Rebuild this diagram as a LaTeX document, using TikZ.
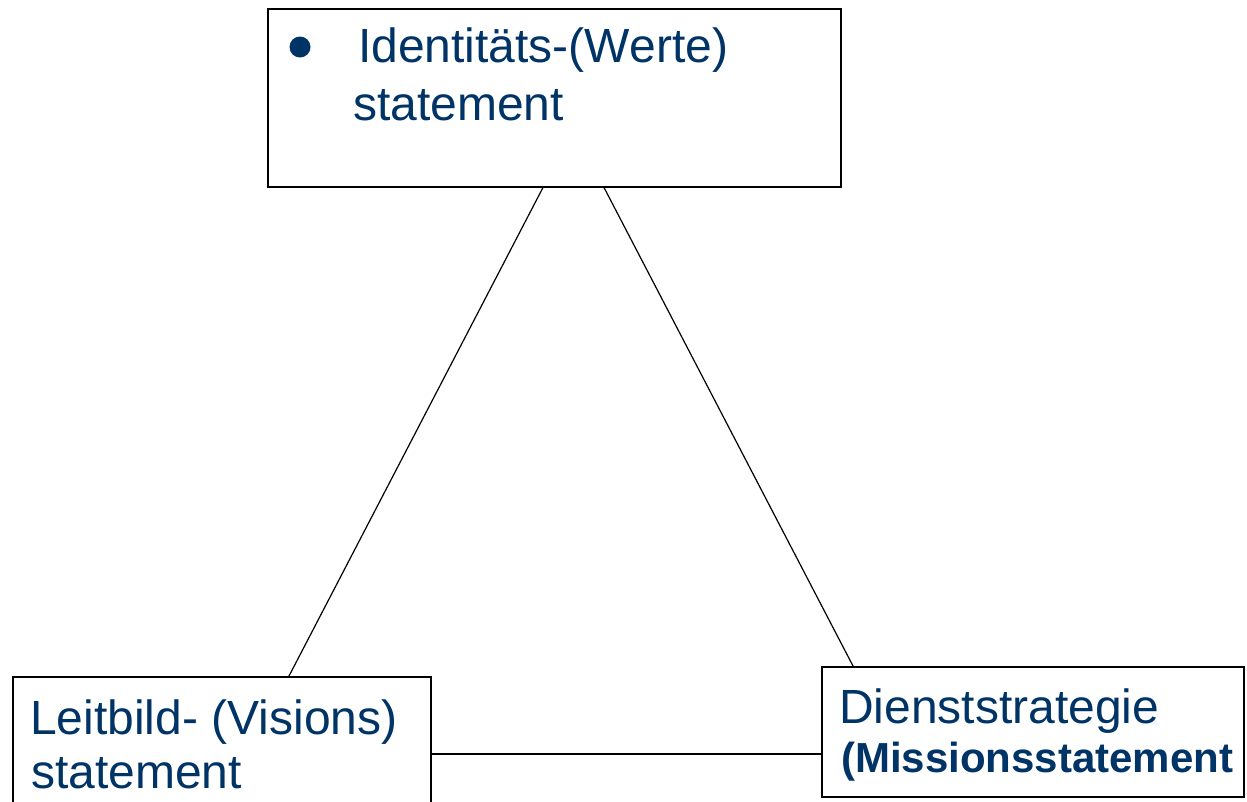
\documentclass[tikz,border=0pt]{standalone}
\usepackage{fontspec}
\setmainfont{Liberation Sans}
\definecolor{txtblue}{HTML}{003366}
\begin{document}
\begin{tikzpicture}[x=1pt,y=-1pt,
 box/.style={draw=black,line width=1.5pt,fill=white,inner sep=0pt,anchor=north west},
 lbl/.style={text=txtblue,anchor=base west,inner sep=0pt,font=\fontsize{48}{58}\selectfont},
 conn/.style={draw=black,line width=1.2pt}]
\clip (0,0) rectangle (1247,801);
\fill[white] (0,0) rectangle (1247,801);
\node[box,minimum width=573pt,minimum height=178pt] (T) at (267,8) {};
\node[box,minimum width=418pt,minimum height=140pt] (L) at (12,676) {};
\node[box,minimum width=422pt,minimum height=130pt] (R) at (821,666) {};
\draw[conn] ([xshift=276pt]T.south west) -- ([xshift=277pt]L.north west);
\draw[conn] ([xshift=337pt]T.south west) -- ([xshift=32pt]R.north west);
\coordinate (h) at ([yshift=-78pt]L.north east);
\draw[conn] (h) -- (h -| R.west);
\node[circle,fill=txtblue,minimum size=21pt,inner sep=0pt] (bul) at (300,47) {};
\node[lbl] (t1) at (358,62) {Identitäts-(Werte)};
\node[lbl] (t2) at (353,120) {statement};
\node[lbl] (l1) at (30,734) {Leitbild- (Visions)};
\node[lbl] (l2) at (31,788) {statement};
\node[lbl] (r1) at (839,723) {Dienststrategie};
\node[lbl,font=\bfseries\fontsize{42}{50}\selectfont] (r2) at (841,772) {(Missionsstatement};
\end{tikzpicture}
\end{document}
